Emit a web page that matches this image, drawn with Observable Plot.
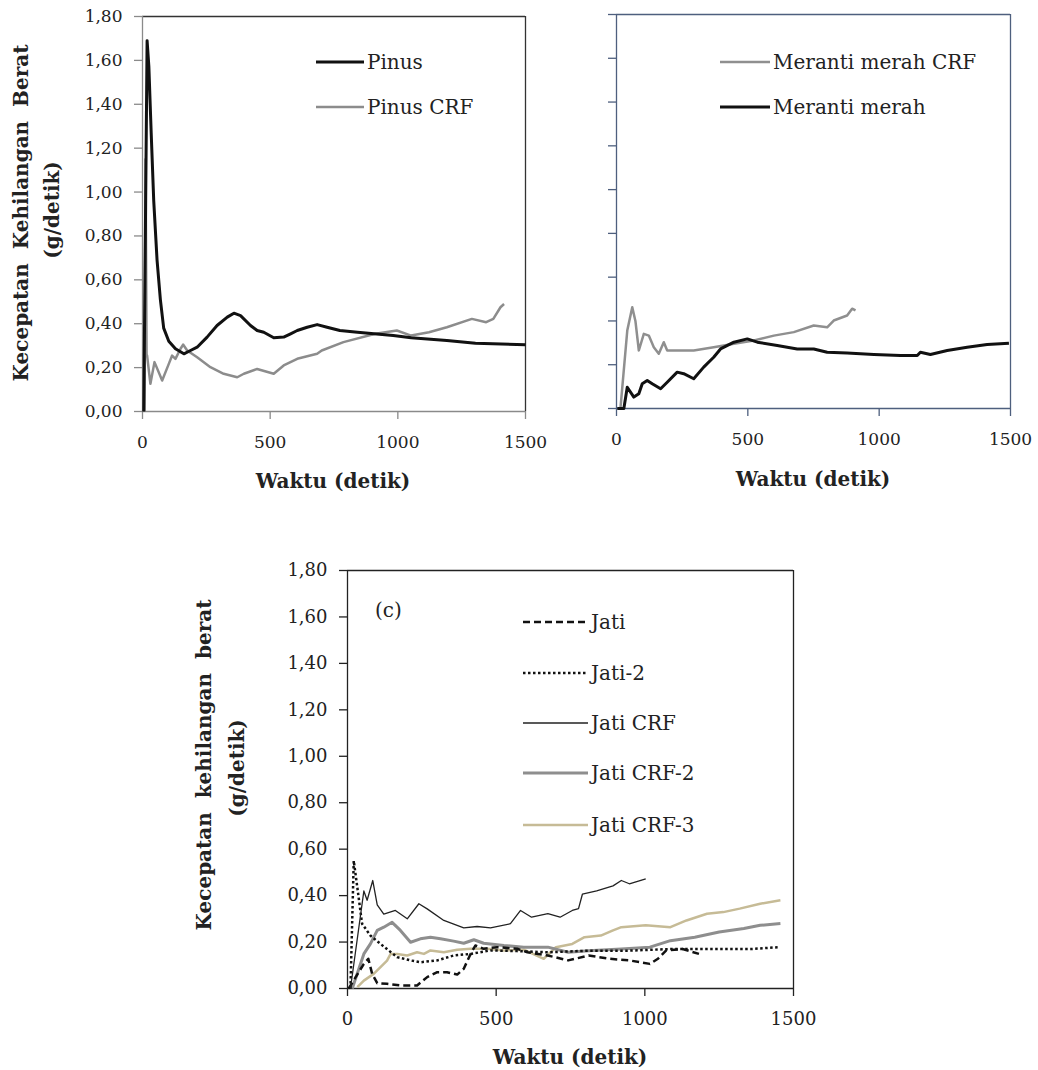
<!DOCTYPE html>
<html>
<head>
<meta charset="utf-8">
<script src="https://cdn.jsdelivr.net/npm/d3@7"></script>
<script src="https://cdn.jsdelivr.net/npm/@observablehq/plot@0.6"></script>
<style>
  body { margin: 0; background: #fff; }
  #wrap { position: relative; width: 1038px; height: 1070px; background: #fff; font-family: "DejaVu Serif", serif; color: #222; overflow: hidden; }
  .abs { position: absolute; }
  .xt { position: absolute; font-weight: bold; font-size: 20px; transform: translate(-50%, -50%); white-space: pre; }
  .yt { position: absolute; font-weight: bold; font-size: 20px; transform: translate(-50%, -50%) rotate(-90deg); white-space: pre; }
  .leg { position: absolute; font-size: 20px; white-space: pre; transform: translateY(-50%); }
</style>
</head>
<body>
<div id="wrap"></div>
<script>
// ---------- data (time in detik, rate in g/detik) ----------
const xTicks = [0, 500, 1000, 1500];
const yTicks = [0, 0.2, 0.4, 0.6, 0.8, 1.0, 1.2, 1.4, 1.6, 1.8];

const pinus = [[5,0],[18,1.69],[25,1.57],[34,1.27],[44,0.96],[57,0.69],[70,0.51],[83,0.38],[103,0.32],[129,0.286],[162,0.263],[188,0.278],[214,0.293],[253,0.339],[292,0.392],[332,0.43],[358,0.448],[384,0.437],[423,0.392],[449,0.369],[475,0.361],[514,0.336],[553,0.339],[580,0.354],[606,0.369],[645,0.384],[684,0.396],[723,0.384],[773,0.369],[842,0.361],[982,0.346],[1052,0.336],[1192,0.324],[1304,0.311],[1500,0.304]];
const pinusCRF = [[8,0],[12,1.15],[16,0.26],[18,0.255],[31,0.126],[47,0.225],[77,0.141],[103,0.217],[116,0.255],[129,0.24],[149,0.286],[159,0.305],[175,0.278],[214,0.247],[266,0.202],[318,0.172],[371,0.156],[397,0.172],[449,0.194],[514,0.172],[553,0.21],[606,0.24],[684,0.263],[702,0.278],[787,0.316],[912,0.354],[996,0.369],[1052,0.346],[1122,0.361],[1192,0.384],[1290,0.422],[1346,0.407],[1374,0.422],[1402,0.475],[1416,0.49]];

const merantiCRF = [[15,0],[41,0.356],[60,0.463],[72,0.40],[85,0.265],[104,0.341],[123,0.333],[142,0.28],[161,0.25],[180,0.303],[193,0.265],[218,0.265],[294,0.265],[370,0.28],[447,0.296],[523,0.311],[599,0.333],[675,0.349],[751,0.379],[802,0.371],[827,0.402],[878,0.425],[897,0.456],[910,0.448]];
const meranti = [[3,0],[28,0],[41,0.097],[66,0.052],[85,0.067],[98,0.113],[117,0.128],[136,0.113],[168,0.09],[193,0.12],[231,0.166],[256,0.159],[294,0.136],[332,0.189],[370,0.234],[396,0.272],[447,0.303],[498,0.318],[536,0.303],[612,0.288],[688,0.272],[751,0.272],[802,0.257],[878,0.253],[980,0.247],[1081,0.242],[1145,0.242],[1157,0.257],[1195,0.247],[1259,0.265],[1335,0.28],[1411,0.292],[1494,0.298]];

const jati = [[4,0],[55,0.106],[70,0.128],[83,0.063],[100,0.023],[133,0.02],[178,0.013],[234,0.013],[268,0.049],[302,0.07],[335,0.07],[369,0.06],[391,0.085],[414,0.149],[430,0.185],[458,0.171],[503,0.178],[571,0.171],[605,0.156],[674,0.142],[742,0.121],[811,0.142],[880,0.128],[948,0.121],[1017,0.106],[1044,0.128],[1072,0.164],[1127,0.17],[1182,0.149]];
const jati2 = [[10,0],[21,0.55],[33,0.436],[49,0.279],[77,0.228],[111,0.192],[167,0.135],[212,0.121],[245,0.113],[302,0.121],[357,0.142],[414,0.149],[481,0.164],[571,0.161],[674,0.156],[811,0.163],[948,0.163],[1086,0.17],[1223,0.17],[1360,0.17],[1449,0.178]];
const jatiCRF = [[10,0],[55,0.42],[66,0.38],[85,0.465],[100,0.36],[122,0.32],[161,0.336],[201,0.30],[240,0.365],[268,0.343],[324,0.293],[391,0.261],[436,0.267],[481,0.261],[548,0.279],[582,0.336],[619,0.307],[674,0.322],[715,0.307],[756,0.336],[777,0.344],[790,0.406],[838,0.42],[893,0.442],[921,0.465],[948,0.451],[1003,0.472]];
const jatiCRF2 = [[16,0],[55,0.149],[77,0.192],[100,0.25],[122,0.264],[150,0.285],[178,0.25],[212,0.199],[245,0.214],[279,0.221],[313,0.214],[357,0.204],[391,0.195],[425,0.21],[458,0.195],[526,0.185],[593,0.178],[674,0.178],[742,0.156],[811,0.163],[921,0.17],[1017,0.178],[1086,0.206],[1168,0.221],[1250,0.243],[1333,0.258],[1388,0.272],[1456,0.28]];
const jatiCRF3 = [[33,0.006],[55,0.034],[88,0.063],[111,0.092],[133,0.12],[145,0.149],[167,0.149],[201,0.142],[234,0.156],[257,0.149],[279,0.164],[324,0.156],[369,0.167],[414,0.171],[470,0.171],[526,0.164],[593,0.167],[660,0.128],[701,0.178],[756,0.192],[797,0.221],[852,0.228],[893,0.25],[921,0.264],[1003,0.272],[1086,0.264],[1140,0.293],[1209,0.322],[1264,0.329],[1319,0.344],[1388,0.365],[1456,0.38]];

// ---------- helpers ----------
const wrap = document.getElementById("wrap");
const fmt = d => d.toFixed(2).replace(".", ",");
const FONT = "DejaVu Serif";

function panel(o) {
  const lines = o.series.map(s => Plot.line(s.data, {
    x: d => d[0], y: d => d[1], stroke: s.stroke, strokeWidth: s.width,
    strokeDasharray: s.dash, strokeLinejoin: "round", strokeLinecap: s.cap || "butt"
  }));
  const svg = Plot.plot({
    width: o.width, height: o.height,
    marginLeft: o.ml, marginRight: o.mr, marginTop: o.mt, marginBottom: o.mb,
    x: {domain: [0, 1500]},
    y: {domain: [0, 1.8]},
    style: {fontFamily: FONT, background: "transparent", overflow: "visible", color: "#222"},
    marks: [
      Plot.ruleY([1.8], {stroke: o.topColor, strokeWidth: 1.3}),
      Plot.ruleX([1500], {stroke: o.topColor, strokeWidth: 1.3}),
      Plot.ruleX([0], {stroke: o.axisColor, strokeWidth: 1.3}),
      Plot.ruleY([0], {stroke: o.axisColor, strokeWidth: 1.3}),
      Plot.axisY(yTicks, {tickSize: 8, tickPadding: o.ypad, tickFormat: o.yLabels ? fmt : () => "",
        stroke: o.axisColor, fill: "#222", fontSize: o.fs, label: null, strokeWidth: 1.3}),
      Plot.axisX(xTicks, {tickSize: 8, tickPadding: 16, tickFormat: d => String(d),
        stroke: o.axisColor, fill: "#222", fontSize: o.fs, label: null, strokeWidth: 1.3}),
      ...lines
    ]
  });
  svg.classList.add("abs");
  svg.style.left = o.left + "px";
  svg.style.top = o.top + "px";
  wrap.appendChild(svg);
}

function text(cls, str, x, y) {
  const d = document.createElement("div");
  d.className = cls; d.textContent = str;
  d.style.left = x + "px"; d.style.top = y + "px";
  wrap.appendChild(d);
}

function legend(x1, x2, y, s, label) {
  const w = x2 - x1;
  const ns = "http://www.w3.org/2000/svg";
  const svg = document.createElementNS(ns, "svg");
  svg.setAttribute("width", w); svg.setAttribute("height", 10);
  svg.classList.add("abs");
  svg.style.left = x1 + "px"; svg.style.top = (y - 5) + "px";
  const l = document.createElementNS(ns, "line");
  l.setAttribute("x1", 0); l.setAttribute("x2", w); l.setAttribute("y1", 5); l.setAttribute("y2", 5);
  l.setAttribute("stroke", s.stroke); l.setAttribute("stroke-width", s.width);
  if (s.dash) l.setAttribute("stroke-dasharray", s.dash);
  svg.appendChild(l);
  wrap.appendChild(svg);
  text("leg", label, x2 + 3, y);
}

// ---------- series styles ----------
const sPinus = {data: pinus, stroke: "#111", width: 3};
const sPinusCRF = {data: pinusCRF, stroke: "#8c8c8c", width: 2.5};
const sMerCRF = {data: merantiCRF, stroke: "#8f8f8f", width: 2.5};
const sMer = {data: meranti, stroke: "#111", width: 3};
const sJati = {data: jati, stroke: "#111", width: 2.5, dash: "7,4"};
const sJati2 = {data: jati2, stroke: "#111", width: 2.5, dash: "2.5,2.5"};
const sJatiCRF = {data: jatiCRF, stroke: "#222", width: 1.3};
const sJatiCRF2 = {data: jatiCRF2, stroke: "#8e8e8e", width: 3};
const sJatiCRF3 = {data: jatiCRF3, stroke: "#c6bb96", width: 2.5};

// ---------- panel A: Pinus ----------
panel({left: 0, top: 0, width: 560, height: 500, ml: 142, mr: 35, mt: 16, mb: 89,
  series: [sPinusCRF, sPinus], axisColor: "#8a8a8a", topColor: "#333", yLabels: true, ypad: 12, fs: 17});
text("yt", "Kecepatan  Kehilangan  Berat", 21, 213);
text("yt", "(g/detik)", 52, 210);
text("xt", "Waktu (detik)", 333, 481);
legend(316, 364, 62, sPinus, "Pinus");
legend(316, 364, 107, sPinusCRF, "Pinus CRF");

// ---------- panel B: Meranti merah ----------
panel({left: 580, top: 0, width: 458, height: 500, ml: 36, mr: 28, mt: 14, mb: 92,
  series: [sMerCRF, sMer], axisColor: "#4e5f7e", topColor: "#4e5f7e", yLabels: false, ypad: 12, fs: 17});
text("xt", "Waktu (detik)", 813, 479);
legend(720, 770, 62, sMerCRF, "Meranti merah CRF");
legend(720, 770, 107, sMer, "Meranti merah");

// ---------- panel C: Jati ----------
panel({left: 180, top: 560, width: 640, height: 510, ml: 167, mr: 27, mt: 10, mb: 82,
  series: [sJatiCRF3, sJatiCRF2, sJati2, sJati, sJatiCRF], axisColor: "#222", topColor: "#222", yLabels: true, ypad: 12, fs: 18});
text("yt", "Kecepatan  kehilangan  berat", 204, 765);
text("yt", "(g/detik)", 237, 768);
text("xt", "Waktu (detik)", 570, 1057);
text("leg", "(c)", 375, 610);
legend(523, 588, 622, sJati, "Jati");
legend(523, 588, 673, sJati2, "Jati-2");
legend(523, 588, 723, sJatiCRF, "Jati CRF");
legend(523, 588, 773, sJatiCRF2, "Jati CRF-2");
legend(523, 588, 825, sJatiCRF3, "Jati CRF-3");
</script>
</body>
</html>
